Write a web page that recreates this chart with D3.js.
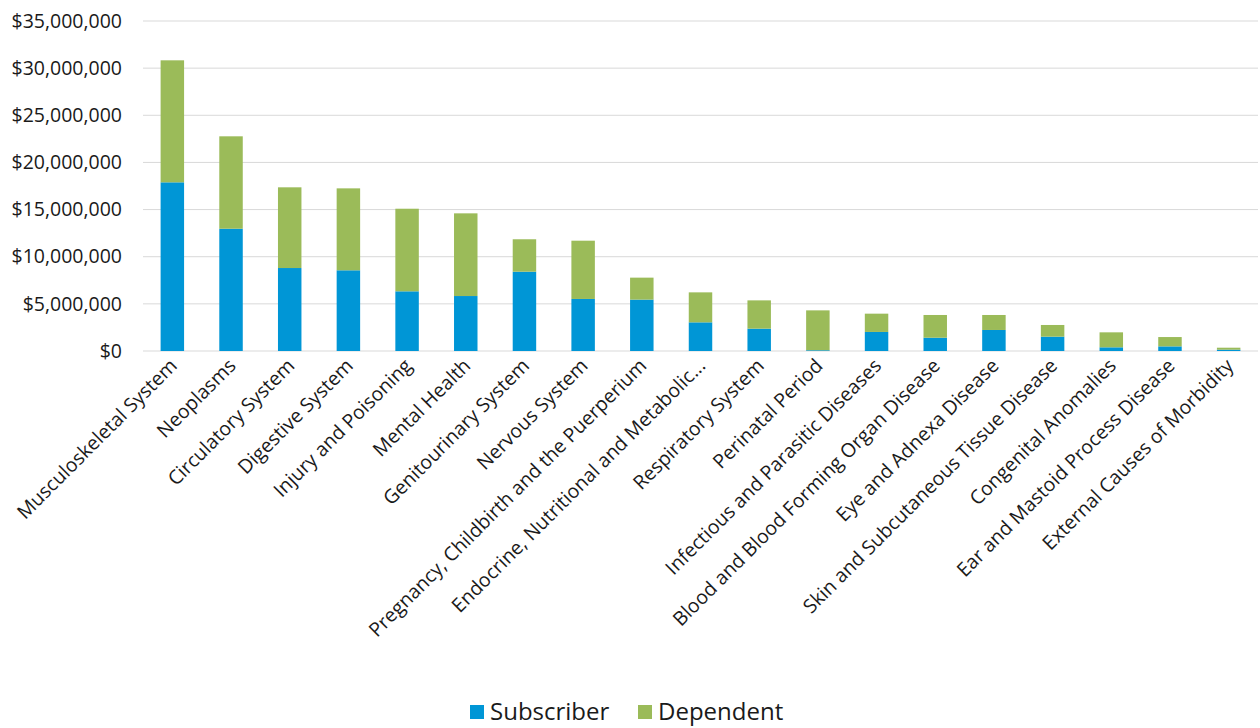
<!DOCTYPE html>
<html>
<head>
<meta charset="utf-8">
<script src="https://cdn.jsdelivr.net/npm/d3@7"></script>
<style>
  body { margin: 0; background: #fff; }
  text { font-family: "Open Sans", sans-serif; fill: #1a1a1a; }
</style>
</head>
<body>
<script>
var categories = [
  "Musculoskeletal System", "Neoplasms", "Circulatory System", "Digestive System",
  "Injury and Poisoning", "Mental Health", "Genitourinary System", "Nervous System",
  "Pregnancy, Childbirth and the Puerperium", "Endocrine, Nutritional and Metabolic...",
  "Respiratory System", "Perinatal Period", "Infectious and Parasitic Diseases",
  "Blood and Blood Forming Organ Disease", "Eye and Adnexa Disease",
  "Skin and Subcutaneous Tissue Disease", "Congenital Anomalies",
  "Ear and Mastoid Process Disease", "External Causes of Morbidity"
];
var subscriber = [17.89, 12.97, 8.80, 8.56, 6.33, 5.83, 8.41, 5.52, 5.45, 3.04,
                  2.37, 0.08, 2.02, 1.41, 2.23, 1.52, 0.39, 0.49, 0.14];
var dependent  = [12.94, 9.80, 8.56, 8.69, 8.76, 8.77, 3.44, 6.18, 2.33, 3.18,
                  3.00, 4.23, 1.94, 2.41, 1.59, 1.24, 1.59, 0.99, 0.21];
var yTicks = [0, 5, 10, 15, 20, 25, 30, 35];
var seriesNames = ["Subscriber", "Dependent"];
var colors = ["#0096D6", "#9BBB59"];

var w = 1260, h = 728;
var plotLeft = 143, plotRight = 1258, plotTop = 21, plotBottom = 351;

var svg = d3.select("body").append("svg")
  .attr("width", w).attr("height", h);

var x = d3.scaleBand()
  .domain(categories)
  .range([plotLeft, plotRight])
  .paddingInner(0.6)
  .paddingOuter(0.3);

var y = d3.scaleLinear()
  .domain([0, 35])
  .range([plotBottom, plotTop]);

// gridlines
svg.append("g")
  .selectAll("line")
  .data(yTicks)
  .enter()
  .append("line")
  .attr("x1", plotLeft).attr("x2", plotRight)
  .attr("y1", function (d) { return y(d); })
  .attr("y2", function (d) { return y(d); })
  .attr("stroke", "#d9d9d9")
  .attr("stroke-width", 1);

// y axis labels
var yAxis = d3.axisLeft(y)
  .tickValues(yTicks)
  .tickSize(0)
  .tickPadding(21)
  .tickFormat(function (d) { return "$" + d3.format(",")(d * 1000000); });

svg.append("g")
  .attr("transform", "translate(" + plotLeft + ",0)")
  .call(yAxis)
  .call(function (g) { g.select(".domain").remove(); })
  .selectAll("text")
  .style("font-size", "19.5px")
  .style("font-family", "'Open Sans', sans-serif")
  .attr("fill", "#1a1a1a");

// stacked bars
var table = categories.map(function (c, i) {
  return { cat: c, Subscriber: subscriber[i], Dependent: dependent[i] };
});
var stack = d3.stack().keys(seriesNames)(table);

svg.append("g")
  .selectAll("g")
  .data(stack)
  .enter()
  .append("g")
  .attr("fill", function (d, i) { return colors[i]; })
  .selectAll("rect")
  .data(function (d) { return d; })
  .enter()
  .append("rect")
  .attr("x", function (d) { return x(d.data.cat); })
  .attr("width", x.bandwidth())
  .attr("y", function (d) { return y(d[1]); })
  .attr("height", function (d) { return y(d[0]) - y(d[1]); });

// category labels
svg.append("g")
  .selectAll("text")
  .data(categories)
  .enter()
  .append("text")
  .attr("text-anchor", "end")
  .attr("transform", function (d) {
    var cx = x(d) + x.bandwidth() / 2 + 6;
    return "translate(" + cx + "," + (plotBottom + 16) + ") rotate(-45)";
  })
  .style("font-size", "19.5px")
  .text(function (d) { return d; });

// legend
var legend = svg.append("g");
var legendX = [470, 638];
seriesNames.forEach(function (s, i) {
  legend.append("rect")
    .attr("x", legendX[i]).attr("y", 705)
    .attr("width", 14).attr("height", 14)
    .attr("fill", colors[i]);
  legend.append("text")
    .attr("x", legendX[i] + 20).attr("y", 720)
    .style("font-size", "24px")
    .text(s);
});
</script>
</body>
</html>
